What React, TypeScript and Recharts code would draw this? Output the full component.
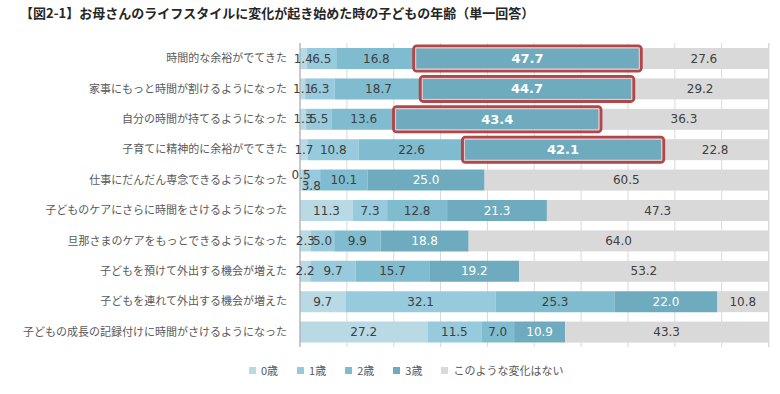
import React from "react";
import {
  BarChart,
  Bar,
  XAxis,
  YAxis,
  CartesianGrid,
  Legend,
  LabelList,
} from "recharts";

// Categories (top to bottom)
const categories = [
  "時間的な余裕がでてきた",
  "家事にもっと時間が割けるようになった",
  "自分の時間が持てるようになった",
  "子育てに精神的に余裕がでてきた",
  "仕事にだんだん専念できるようになった",
  "子どものケアにさらに時間をさけるようになった",
  "旦那さまのケアをもっとできるようになった",
  "子どもを預けて外出する機会が増えた",
  "子どもを連れて外出する機会が増えた",
  "子どもの成長の記録付けに時間がさけるようになった",
];

// Share (%) by child's age when the change started
const age0 = [1.4, 1.1, 1.3, 1.7, 0.5, 11.3, 2.3, 2.2, 9.7, 27.2];
const age1 = [6.5, 6.3, 5.5, 10.8, 3.8, 7.3, 5.0, 9.7, 32.1, 11.5];
const age2 = [16.8, 18.7, 13.6, 22.6, 10.1, 12.8, 9.9, 15.7, 25.3, 7.0];
const age3 = [47.7, 44.7, 43.4, 42.1, 25.0, 21.3, 18.8, 19.2, 22.0, 10.9];
const noChange = [27.6, 29.2, 36.3, 22.8, 60.5, 47.3, 64.0, 53.2, 10.8, 43.3];

// rows whose 3-year segment is boxed in red
const highlighted = [
  "時間的な余裕がでてきた",
  "家事にもっと時間が割けるようになった",
  "自分の時間が持てるようになった",
  "子育てに精神的に余裕がでてきた",
];

const xTicks = [0, 10, 20, 30, 40, 50, 60, 70, 80, 90, 100];

const series = [
  { key: "age0", name: "0歳", color: "#b9d9e4" },
  { key: "age1", name: "1歳", color: "#96cadc" },
  { key: "age2", name: "2歳", color: "#7fbccf" },
  { key: "age3", name: "3歳", color: "#6eabbe" },
  { key: "none", name: "このような変化はない", color: "#d9d9d9" },
];

const data = categories.map((name, i) => ({
  name,
  age0: age0[i],
  age1: age1[i],
  age2: age2[i],
  age3: age3[i],
  none: noChange[i],
  hl: highlighted.includes(name),
}));

const JP = '"Noto Sans CJK JP", "Noto Sans", sans-serif';
const NUM = '"DejaVu Sans", Verdana, sans-serif';

const makeLabel = (seriesKey: string) => (props: any) => {
  const { x, y, width, height, value, index } = props;
  if (value == null) return null;
  const row = data[index];
  const white = seriesKey === "age3";
  const bold = white && row.hl;
  let dy = 0;
  // tiny first two segments of row 5 overlap, so the labels are staggered
  if (index === 4 && seriesKey === "age0") dy = -5;
  if (index === 4 && seriesKey === "age1") dy = 6;
  return (
    <text
      x={x + width / 2}
      y={y + height / 2 + dy}
      textAnchor="middle"
      dominantBaseline="central"
      fill={white ? "#ffffff" : "#404040"}
      fontSize={bold ? 13 : 12}
      fontWeight={bold ? "bold" : "normal"}
      fontFamily={NUM}
    >
      {Number(value).toFixed(1)}
    </text>
  );
};

// last segment also draws the red frame around the preceding 3-year segment
const NoneShape = (props: any) => {
  const { x, y, width, height, fill, payload, value } = props;
  const span = Array.isArray(value) ? value[1] - value[0] : payload.none;
  const px = span ? width / span : 0;
  const w3 = payload.age3 * px;
  return (
    <g>
      <rect x={x} y={y} width={width} height={height} fill={fill} />
      {payload.hl && (
        <g>
          <rect
            x={x - w3 - 2}
            y={y - 2}
            width={w3 + 4}
            height={height + 4}
            rx={3}
            fill="none"
            stroke="#b24649"
            strokeWidth={3}
          />
          <rect
            x={x - w3}
            y={y}
            width={w3}
            height={height}
            fill="none"
            stroke="#e9c9c9"
            strokeWidth={1}
          />
        </g>
      )}
    </g>
  );
};

const renderLegend = () => (
  <div
    style={{
      display: "flex",
      paddingLeft: 249,
      fontFamily: JP,
      fontSize: 11,
      color: "#595959",
      alignItems: "center",
    }}
  >
    {series.map((s) => (
      <div key={s.key} style={{ display: "flex", alignItems: "center", marginRight: 19 }}>
        <span
          style={{
            display: "inline-block",
            width: 7,
            height: 7,
            background: s.color,
            marginRight: 5,
          }}
        />
        <span>{s.name}</span>
      </div>
    ))}
  </div>
);

export default function App() {
  return (
    <div
      style={{
        position: "absolute",
        left: 0,
        top: 0,
        width: 780,
        height: 394,
        background: "#ffffff",
        overflow: "hidden",
      }}
    >
      <div
        style={{
          position: "absolute",
          left: 20,
          top: 3,
          fontFamily: JP,
          fontSize: 13,
          fontWeight: "bold",
          color: "#262626",
          whiteSpace: "nowrap",
        }}
      >
        【図2-1】お母さんのライフスタイルに変化が起き始めた時の子どもの年齢（単一回答）
      </div>
      <BarChart
        width={780}
        height={394}
        data={data}
        layout="vertical"
        margin={{ top: 43, right: 11, bottom: 31, left: 0 }}
        barSize={21}
      >
        <CartesianGrid horizontal={false} stroke="#d9d9d9" />
        <XAxis type="number" domain={[0, 100]} ticks={xTicks} hide />
        <YAxis
          type="category"
          dataKey="name"
          width={300}
          tickLine={false}
          tickSize={0}
          tickMargin={13}
          axisLine={{ stroke: "#a6a6a6" }}
          tick={{ fill: "#595959", fontSize: 11, fontFamily: JP }}
          interval={0}
        />
        <Legend
          content={renderLegend}
          wrapperStyle={{ top: 362, left: 0, width: 780 }}
        />
        {series.map((s) => (
          <Bar
            key={s.key}
            dataKey={s.key}
            name={s.name}
            stackId="a"
            fill={s.color}
            isAnimationActive={false}
            shape={s.key === "none" ? NoneShape : undefined}
          >
            <LabelList dataKey={s.key} content={makeLabel(s.key)} />
          </Bar>
        ))}
      </BarChart>
    </div>
  );
}
